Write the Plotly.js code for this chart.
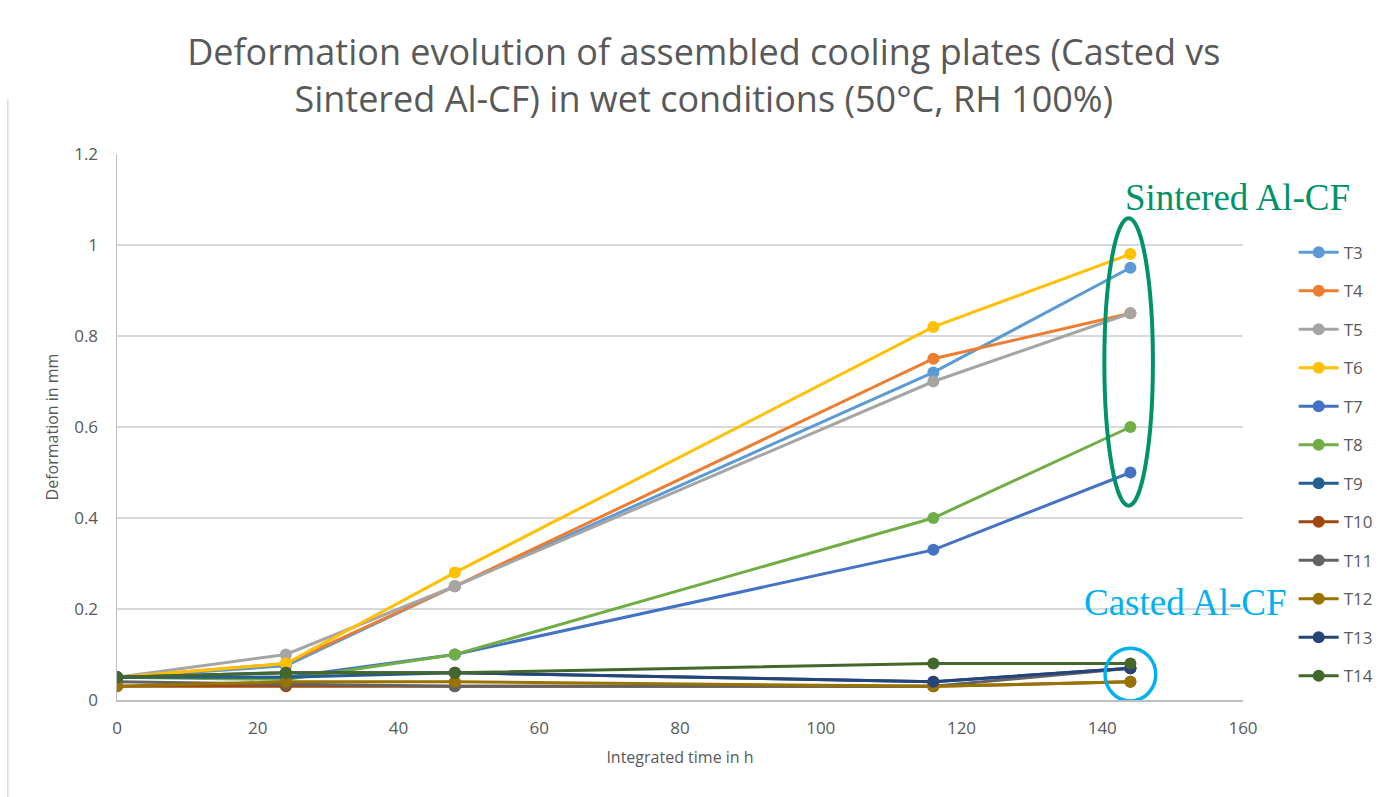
<!DOCTYPE html>
<html>
<head>
<meta charset="utf-8">
<script src="https://cdn.plot.ly/plotly-3.0.1.min.js"></script>
<style>html,body{margin:0;padding:0;background:#fff;}#chart{width:1380px;height:797px;}</style>
</head>
<body>
<div id="chart"></div>
<script>
const hours = [0, 24, 48, 116, 144];
const seriesNames = ["T3","T4","T5","T6","T7","T8","T9","T10","T11","T12","T13","T14"];
const T3  = [0.05, 0.075, 0.25, 0.72, 0.95];
const T4  = [0.05, 0.08, 0.25, 0.75, 0.85];
const T5  = [0.05, 0.10, 0.25, 0.70, 0.85];
const T6  = [0.05, 0.08, 0.28, 0.82, 0.98];
const T7  = [0.05, 0.05, 0.10, 0.33, 0.50];
const T8  = [0.05, 0.045, 0.10, 0.40, 0.60];
const T9  = [0.05, 0.05, 0.06, 0.04, 0.07];
const T10 = [0.03, 0.03, 0.03, 0.03, 0.04];
const T11 = [0.04, 0.035, 0.03, 0.03, 0.07];
const T12 = [0.03, 0.04, 0.04, 0.03, 0.04];
const T13 = [0.05, 0.06, 0.06, 0.04, 0.07];
const T14 = [0.05, 0.06, 0.06, 0.08, 0.08];
const seriesValues = [T3,T4,T5,T6,T7,T8,T9,T10,T11,T12,T13,T14];
const colors = ["#5B9BD5","#ED7D31","#A5A5A5","#FFC000","#4472C4","#70AD47",
                "#255E91","#9E480E","#636363","#997300","#264478","#43682B"];

const traces = seriesNames.map((n, i) => ({
  x: hours, y: seriesValues[i], name: n, type: 'scatter', mode: 'lines+markers',
  legendgroup: n,
  line: {color: colors[i], width: 3},
  marker: {color: colors[i], size: 12}
}));

const axisFont = {family: 'Open Sans, sans-serif', size: 16, color: '#595959'};
const tickFont = {family: 'Open Sans, sans-serif', size: 17, color: '#595959'};
const layout = {
  width: 1380, height: 797,
  paper_bgcolor: '#fff', plot_bgcolor: '#fff',
  margin: {l: 117, r: 137, t: 154, b: 97, autoexpand: false},
  title: {
    text: 'Deformation evolution of assembled cooling plates (Casted vs<br>Sintered Al-CF) in wet conditions (50°C, RH 100%)',
    font: {family: 'Open Sans, sans-serif', size: 36, color: '#595959'},
    x: 0.51, xref: 'container', xanchor: 'center', y: 0.918, yref: 'container', yanchor: 'middle'
  },
  xaxis: {
    range: [0, 160], tick0: 0, dtick: 20, showgrid: false, zeroline: false,
    showline: true, linecolor: '#BFBFBF', linewidth: 1.5, automargin: false,
    tickfont: tickFont, ticks: '', ticklabelstandoff: 12,
    title: {text: 'Integrated time in h', font: axisFont, standoff: 14}
  },
  yaxis: {
    range: [0, 1.2], tick0: 0, dtick: 0.2, showgrid: true, gridcolor: '#D9D9D9', gridwidth: 1.5,
    zeroline: false, showline: true, linecolor: '#BFBFBF', linewidth: 1.5, automargin: false,
    tickfont: tickFont, ticks: '', ticklabelstandoff: 14,
    title: {text: 'Deformation in mm', font: axisFont, standoff: 11}
  },
  legend: {
    x: 1.045, xanchor: 'left', y: 0.852, yanchor: 'top',
    font: {family: 'Open Sans, sans-serif', size: 17, color: '#595959'},
    traceorder: 'grouped', tracegroupgap: 13.4, itemwidth: 40,
    bgcolor: 'rgba(0,0,0,0)'
  },
  shapes: [
    {type: 'circle', xref: 'x', yref: 'y', x0: 140.3, x1: 147.2, y0: 0.427, y1: 1.059,
     line: {color: '#00936A', width: 4}},
    {type: 'circle', xref: 'x', yref: 'y', x0: 140.4, x1: 147.6, y0: -0.002, y1: 0.114,
     line: {color: '#00B0F0', width: 3.5}},
    {type: 'line', xref: 'paper', yref: 'paper', x0: -0.097, x1: -0.097, y0: -0.2, y1: 1.1,
     line: {color: '#D9D9D9', width: 1.5}}
  ],
  annotations: [
    {text: 'Sintered Al-CF', xref: 'paper', yref: 'paper', x: 0.9947, y: 0.921, xanchor: 'center', yanchor: 'middle',
     showarrow: false, font: {family: 'Liberation Serif, Times New Roman, serif', size: 37, color: '#00936A'}},
    {text: 'Casted Al-CF', xref: 'paper', yref: 'paper', x: 0.9485, y: 0.179, xanchor: 'center', yanchor: 'middle',
     showarrow: false, font: {family: 'Liberation Serif, Times New Roman, serif', size: 37, color: '#00B0F0'}}
  ],
  showlegend: true
};
Plotly.newPlot('chart', traces, layout, {displayModeBar: false, staticPlot: true});
</script>
</body>
</html>
